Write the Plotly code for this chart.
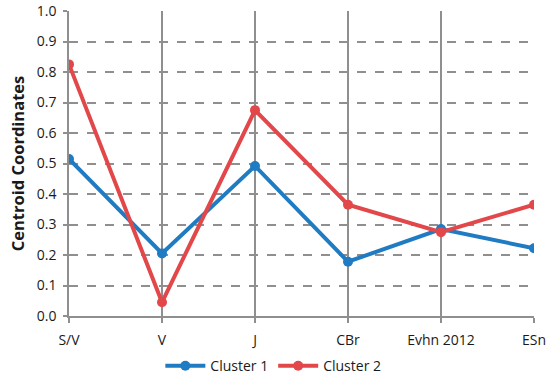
import plotly.graph_objects as go

categories = ["S/V", "V", "J", "CBr", "Evhn 2012", "ESn"]
cluster1 = [0.515, 0.205, 0.492, 0.178, 0.285, 0.222]
cluster2 = [0.825, 0.045, 0.675, 0.365, 0.275, 0.365]
y_ticks = [0.0, 0.1, 0.2, 0.3, 0.4, 0.5, 0.6, 0.7, 0.8, 0.9, 1.0]

blue = "#1F7BC2"
red = "#E2474A"

fig = go.Figure()
fig.add_trace(go.Scatter(x=categories, y=cluster1, name="Cluster 1", mode="lines+markers",
                         line=dict(color=blue, width=4), marker=dict(size=10, color=blue)))
fig.add_trace(go.Scatter(x=categories, y=cluster2, name="Cluster 2", mode="lines+markers",
                         line=dict(color=red, width=4), marker=dict(size=10, color=red)))

font_family = "Open Sans, Liberation Sans, sans-serif"
fig.update_layout(
    width=550, height=383,
    margin=dict(l=69, r=16, t=11, b=67, autoexpand=False),
    paper_bgcolor="white", plot_bgcolor="white",
    font=dict(family=font_family, size=14, color="#1a1a1a"),
    showlegend=True,
    legend=dict(orientation="h", xref="container", x=0.497, xanchor="center",
                yref="container", y=0.044, yanchor="middle",
                font=dict(size=14), itemwidth=40),
    xaxis=dict(type="category", range=[0, 5], showgrid=True, gridcolor="#8f8f8f", gridwidth=1.5,
               showline=True, linecolor="#8f8f8f", linewidth=1.5, automargin=False,
               ticks="outside", ticklen=5, tickcolor="#8f8f8f", tickwidth=1.5,
               ticklabelstandoff=5,
               tickfont=dict(size=14), zeroline=False),
    yaxis=dict(range=[0, 1.0], tickvals=y_ticks, ticktext=[f"{v:.1f}" for v in y_ticks],
               showgrid=True, gridcolor="#8f8f8f", griddash="dash", gridwidth=1.5,
               showline=True, linecolor="#8f8f8f", linewidth=1.5, automargin=False,
               ticks="outside", ticklen=4, tickcolor="#8f8f8f", tickwidth=1.5,
               ticklabelstandoff=4,
               tickfont=dict(size=14), zeroline=False,
               title=dict(text="<b>Centroid Coordinates</b>", font=dict(size=16.5), standoff=8)),
)
fig.write_html("out.html", config={"displayModeBar": False},
               post_script="document.body.style.margin='0';")
